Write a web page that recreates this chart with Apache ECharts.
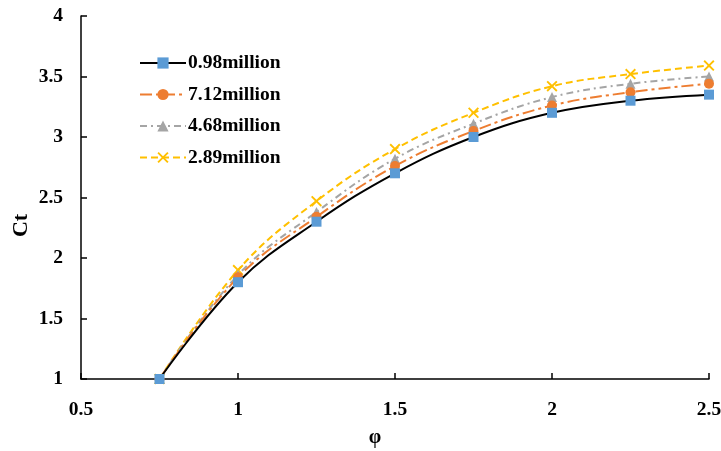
<!DOCTYPE html>
<html>
<head>
<meta charset="utf-8">
<script src="https://cdn.jsdelivr.net/npm/echarts@6/dist/echarts.min.js"></script>
<style>html,body{margin:0;padding:0;background:#fff}#c{width:721px;height:451px}</style>
</head>
<body>
<div id="c"></div>
<script>
const phi = [0.75, 1, 1.25, 1.5, 1.75, 2, 2.25, 2.5];
const seriesNames = ['0.98million', '7.12million', '4.68million', '2.89million'];
const ct098 = [1, 1.8, 2.3, 2.7, 3.0, 3.2, 3.3, 3.35];
const ct712 = [1, 1.84, 2.34, 2.76, 3.05, 3.26, 3.37, 3.44];
const ct468 = [1, 1.86, 2.38, 2.82, 3.11, 3.33, 3.44, 3.5];
const ct289 = [1, 1.9, 2.47, 2.9, 3.2, 3.42, 3.52, 3.59];
const xTicks = [0.5, 1, 1.5, 2, 2.5];
const yTicks = [1, 1.5, 2, 2.5, 3, 3.5, 4];

const FONT = '"Liberation Serif", "Times New Roman", serif';
const xMark = 'path://M0,1.2 L1.2,0 L5,3.8 L8.8,0 L10,1.2 L6.2,5 L10,8.8 L8.8,10 L5,6.2 L1.2,10 L0,8.8 L3.8,5 Z';

function pts(arr) { return phi.map((x, i) => [x, arr[i]]); }

const chart = echarts.init(document.getElementById('c'));
chart.setOption({
  animation: false,
  backgroundColor: '#fff',
  grid: { left: 81, right: 12, top: 16, bottom: 72, containLabel: false, outerBoundsMode: 'none' },
  legend: {
    orient: 'vertical',
    left: 134,
    top: 48,
    itemWidth: 46,
    itemHeight: 14,
    itemGap: 11.5,
    textStyle: { fontFamily: FONT, fontWeight: 'bold', fontSize: 19.5, color: '#000', padding: [0, 0, 0, -3] },
    data: seriesNames
  },
  xAxis: {
    type: 'value',
    min: xTicks[0], max: xTicks[xTicks.length - 1], interval: 0.5,
    name: 'φ',
    nameLocation: 'middle',
    nameGap: 49,
    nameMoveOverlap: false,
    nameTextStyle: { fontFamily: FONT, fontWeight: 'bold', fontSize: 20, color: '#000', padding: [0, 40, 0, 0] },
    axisLine: { show: true, onZero: false, lineStyle: { color: '#000', width: 1.5 } },
    axisTick: { show: true, inside: true, length: 6, lineStyle: { color: '#000', width: 1.5 } },
    axisLabel: { fontFamily: FONT, fontWeight: 'bold', fontSize: 19.5, color: '#000', margin: 21,
      formatter: v => String(v) },
    splitLine: { show: false }
  },
  yAxis: {
    type: 'value',
    min: yTicks[0], max: yTicks[yTicks.length - 1], interval: 0.5,
    name: 'Ct',
    nameLocation: 'middle',
    nameGap: 49,
    nameMoveOverlap: false,
    nameTextStyle: { fontFamily: FONT, fontWeight: 'bold', fontSize: 22, color: '#000', padding: [0, 56, 0, 0] },
    axisLine: { show: true, lineStyle: { color: '#000', width: 1.5 } },
    axisTick: { show: true, inside: true, length: 6, lineStyle: { color: '#000', width: 1.5 } },
    axisLabel: { fontFamily: FONT, fontWeight: 'bold', fontSize: 19.5, color: '#000', margin: 18,
      formatter: v => String(v) },
    splitLine: { show: false }
  },
  series: [
    {
      name: seriesNames[0], type: 'line', smooth: 0.4, data: pts(ct098),
      symbol: 'rect', symbolSize: 10,
      itemStyle: { color: '#5B9BD5' },
      lineStyle: { color: '#000', width: 2, type: 'solid' },
      z: 5
    },
    {
      name: seriesNames[1], type: 'line', smooth: 0.4, data: pts(ct712),
      symbol: 'circle', symbolSize: 10,
      itemStyle: { color: '#ED7D31' },
      lineStyle: { color: '#ED7D31', width: 2, type: [12, 4, 3, 4] },
      z: 4
    },
    {
      name: seriesNames[2], type: 'line', smooth: 0.4, data: pts(ct468),
      symbol: 'triangle', symbolSize: 10,
      itemStyle: { color: '#A5A5A5' },
      lineStyle: { color: '#A5A5A5', width: 2, type: [7, 4, 2, 4] },
      z: 3
    },
    {
      name: seriesNames[3], type: 'line', smooth: 0.4, data: pts(ct289),
      symbol: xMark, symbolSize: 11,
      itemStyle: { color: '#FFC000' },
      lineStyle: { color: '#FFC000', width: 2, type: [7, 4] },
      z: 2
    }
  ]
});
</script>
</body>
</html>
